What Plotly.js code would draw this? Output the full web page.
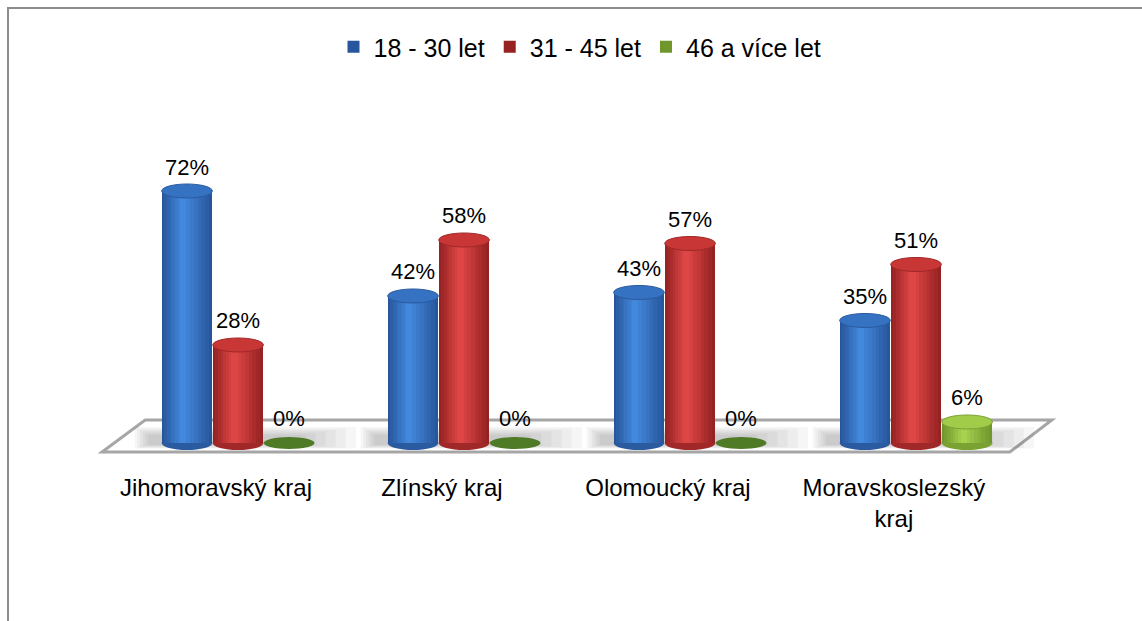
<!DOCTYPE html>
<html>
<head>
<meta charset="utf-8">
<script src="https://cdn.plot.ly/plotly-3.0.1.min.js"></script>
<style>
  html, body { margin: 0; padding: 0; background: #ffffff; }
  #wrap { position: relative; width: 1142px; height: 621px; overflow: hidden; }
  #chart { position: absolute; left: 0; top: 0; width: 1142px; height: 621px; }
  #frame { position: absolute; left: 7px; top: 7px; width: 1200px; height: 700px;
           border-top: 2px solid #8c8c8c; border-left: 2px solid #8c8c8c; pointer-events: none; }
</style>
</head>
<body>
<div id="wrap"><div id="chart"></div><div id="frame"></div></div>
<script>
// ---- data ----
const categories = ['Jihomoravský kraj', 'Zlínský kraj', 'Olomoucký kraj', 'Moravskoslezský kraj'];
const tickLabels = ['Jihomoravský kraj', 'Zlínský kraj', 'Olomoucký kraj', 'Moravskoslezský<br>kraj'];
const seriesNames = ['18 - 30 let', '31 - 45 let', '46 a více let'];
const values1830 = [72, 42, 43, 35];
const values3145 = [28, 58, 57, 51];
const values46 = [0, 0, 0, 6];

// ---- style ----
const FONT = 'Liberation Sans, Arial, sans-serif';
const seriesValues = [values1830, values3145, values46];
const edgeRGB   = [[40, 86, 156], [150, 34, 34], [112, 150, 44]];
const centerRGB = [[66, 136, 220], [222, 70, 70], [166, 210, 80]];
const topColors  = ['#3672c2', '#c93636', '#a0cc4a'];
const rimColors  = ['#2a5aa0', '#a02828', '#7aa232'];
const zeroColors = ['#2a5aa0', '#a82828', '#4f7a26'];
const BW = 0.224, STEP = 0.226, OFF0 = -0.24, EH = 2.0, NL = 8;

function mix(a, b, t) {
  return 'rgb(' + a.map((v, k) => Math.round(v + (b[k] - v) * t)).join(',') + ')';
}

const traces = [];
const shapes = [];
const annotations = [];

// floor (decoration)
shapes.push({
  type: 'path', xref: 'x', yref: 'y', layer: 'below',
  path: 'M -0.313 6.57 L 3.699 6.57 L 3.513 -2.57 L -0.504 -2.57 Z',
  fillcolor: '#ffffff', line: { color: '#a6a6a6', width: 3 }
});
// soft shadows on floor
categories.forEach((c, i) => {
  for (let k = 0; k < 6; k++) {
    shapes.push({ type: 'rect', xref: 'x', yref: 'y', layer: 'below',
      x0: i - 0.36 + k * 0.012, x1: i + 0.62 - k * 0.045,
      y0: -1.6 + k * 0.2, y1: 4.6 - k * 0.45,
      fillcolor: 'rgba(0,0,0,0.035)', line: { width: 0 } });
  }
});

seriesValues.forEach((vals, s) => {
  const off = OFF0 + s * STEP;
  for (let k = 0; k < NL; k++) {
    const t = k / (NL - 1);
    const w = BW * (1 - 0.88 * t);
    const o = off + (BW - w) * 0.42;
    traces.push({
      type: 'bar', x: categories, y: vals, name: seriesNames[s],
      width: w, offset: o,
      marker: { color: mix(edgeRGB[s], centerRGB[s], t), line: { width: 0 } },
      showlegend: k === 0, legendgroup: 's' + s,
      hoverinfo: k === 0 ? 'y+name' : 'skip'
    });
  }
  vals.forEach((v, i) => {
    const x0 = i + off, x1 = i + off + BW;
    if (v > 0) {
      shapes.push({ type: 'circle', xref: 'x', yref: 'y', layer: 'below',
        x0: x0, x1: x1, y0: -EH, y1: EH,
        fillcolor: rimColors[s], line: { width: 0 } });
      shapes.push({ type: 'circle', xref: 'x', yref: 'y', layer: 'above',
        x0: x0, x1: x1, y0: v - EH, y1: v + EH,
        fillcolor: topColors[s], line: { color: rimColors[s], width: 1 } });
    } else {
      shapes.push({ type: 'circle', xref: 'x', yref: 'y', layer: 'above',
        x0: x0, x1: x1, y0: -1.7, y1: 1.7,
        fillcolor: zeroColors[s], line: { width: 0 } });
    }
    annotations.push({
      xref: 'x', yref: 'y', x: i + off + BW / 2, y: v,
      text: v + '%', showarrow: false, yanchor: 'middle', yshift: 24,
      font: { family: FONT, size: 22, color: '#000000' }
    });
  });
});

const layout = {
  width: 1142, height: 621,
  paper_bgcolor: 'rgba(0,0,0,0)', plot_bgcolor: 'rgba(0,0,0,0)',
  margin: { l: 60, r: 42, t: 100, b: 156 },
  barmode: 'overlay',
  bargap: 0,
  font: { family: FONT, size: 23, color: '#000000' },
  showlegend: true,
  legend: {
    orientation: 'h', x: 0.5, xanchor: 'center', y: 1.145, yanchor: 'middle',
    font: { family: FONT, size: 25, color: '#000000' },
    itemclick: false, itemdoubleclick: false, traceorder: 'normal', itemwidth: 30
  },
  xaxis: {
    type: 'category', range: [-0.69, 3.912],
    tickvals: categories, ticktext: tickLabels,
    showline: false, showgrid: false, zeroline: false, ticks: '',
    ticklabelstandoff: 6,
    tickfont: { family: FONT, size: 24, color: '#000000' }
  },
  yaxis: {
    range: [-6.29, 98], showticklabels: false, showgrid: false,
    zeroline: false, showline: false, ticks: ''
  },
  shapes: shapes,
  annotations: annotations
};

Plotly.newPlot('chart', traces, layout, { displayModeBar: false, staticPlot: true });
</script>
</body>
</html>
